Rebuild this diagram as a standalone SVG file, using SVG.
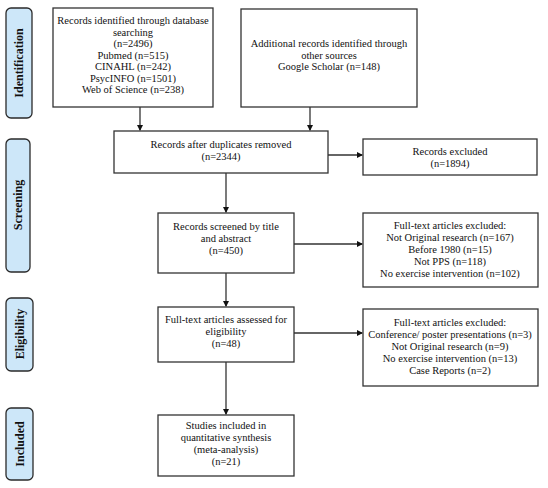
<svg xmlns="http://www.w3.org/2000/svg" width="548" height="488" viewBox="0 0 548 488">
<style>
.box{fill:#fff;stroke:#333;stroke-width:1.3}
.lab{fill:#cde7f9;stroke:#2a2a2a;stroke-width:1.3}
.t{font-family:"Liberation Serif","Times New Roman",serif;font-size:10.5px;fill:#111;text-anchor:middle}
.s{font-family:"Liberation Serif","Times New Roman",serif;font-size:12px;font-weight:bold;fill:#111;text-anchor:middle}
.c{fill:none;stroke:#333;stroke-width:1.3}
</style>
<defs>
<marker id="ah" markerWidth="6" markerHeight="6" refX="5" refY="3" orient="auto" markerUnits="userSpaceOnUse">
<path d="M0,0 L6,3 L0,6 z" fill="#111"/>
</marker>
</defs>
<g id="stage-identification"><rect class="lab" x="6" y="8" width="26" height="110" rx="5"/><text class="s" transform="translate(23,63) rotate(-90)">Identification</text></g>
<g id="stage-screening"><rect class="lab" x="6" y="139" width="24" height="133" rx="5"/><text class="s" transform="translate(22,205) rotate(-90)">Screening</text></g>
<g id="stage-eligibility"><rect class="lab" x="6" y="298" width="27" height="73" rx="5"/><text class="s" transform="translate(23.5,334) rotate(-90)">Eligibility</text></g>
<g id="stage-included"><rect class="lab" x="6" y="408" width="27" height="72" rx="5"/><text class="s" transform="translate(23.5,444) rotate(-90)">Included</text></g>

<g id="records-db"><rect class="box" x="53" y="8" width="160" height="99"/>
<text class="t" x="133" y="24">Records identified through database</text>
<text class="t" x="133" y="35.5">searching</text>
<text class="t" x="133" y="47">(n=2496)</text>
<text class="t" x="133" y="58.5">Pubmed (n=515)</text>
<text class="t" x="133" y="70">CINAHL (n=242)</text>
<text class="t" x="133" y="81.5">PsycINFO (n=1501)</text>
<text class="t" x="133" y="93">Web of Science (n=238)</text></g>

<g id="records-other"><rect class="box" x="241" y="9" width="176" height="98"/>
<text class="t" x="329" y="47">Additional records identified through</text>
<text class="t" x="329" y="58.5">other sources</text>
<text class="t" x="329" y="70">Google Scholar (n=148)</text></g>

<g id="dup-removed"><rect class="box" x="114" y="131" width="214" height="42"/>
<text class="t" x="221" y="148">Records after duplicates removed</text>
<text class="t" x="221" y="160">(n=2344)</text></g>

<g id="records-excluded"><rect class="box" x="363" y="139" width="174" height="36"/>
<text class="t" x="450" y="155">Records excluded</text>
<text class="t" x="450" y="167">(n=1894)</text></g>

<g id="screened"><rect class="box" x="158" y="213" width="136" height="60"/>
<text class="t" x="226" y="230">Records screened by title</text>
<text class="t" x="226" y="242">and abstract</text>
<text class="t" x="226" y="254">(n=450)</text></g>

<g id="excluded-1"><rect class="box" x="363" y="213" width="175" height="74"/>
<text class="t" x="450" y="229">Full-text articles excluded:</text>
<text class="t" x="450" y="241">Not Original research (n=167)</text>
<text class="t" x="450" y="253">Before 1980 (n=15)</text>
<text class="t" x="450" y="265">Not PPS (n=118)</text>
<text class="t" x="450" y="277">No exercise intervention (n=102)</text></g>

<g id="assessed"><rect class="box" x="158" y="307" width="136" height="55"/>
<text class="t" x="226" y="323">Full-text articles assessed for</text>
<text class="t" x="226" y="335">eligibility</text>
<text class="t" x="226" y="347">(n=48)</text></g>

<g id="excluded-2"><rect class="box" x="363" y="309" width="175" height="77"/>
<text class="t" x="450" y="326">Full-text articles excluded:</text>
<text class="t" x="450" y="338">Conference/ poster presentations (n=3)</text>
<text class="t" x="450" y="350">Not Original research (n=9)</text>
<text class="t" x="450" y="362">No exercise intervention (n=13)</text>
<text class="t" x="450" y="374">Case Reports (n=2)</text></g>

<g id="included"><rect class="box" x="158" y="415" width="136" height="61"/>
<text class="t" x="226" y="429">Studies included in</text>
<text class="t" x="226" y="441">quantitative synthesis</text>
<text class="t" x="226" y="453">(meta-analysis)</text>
<text class="t" x="226" y="465">(n=21)</text></g>

<g id="connectors">
<line class="c" x1="140" y1="107" x2="140" y2="130" marker-end="url(#ah)"/>
<line class="c" x1="310" y1="107" x2="310" y2="130" marker-end="url(#ah)"/>
<line class="c" x1="226" y1="173" x2="226" y2="212" marker-end="url(#ah)"/>
<line class="c" x1="226" y1="273" x2="226" y2="306" marker-end="url(#ah)"/>
<line class="c" x1="226" y1="362" x2="226" y2="414" marker-end="url(#ah)"/>
<line class="c" x1="328" y1="155" x2="362" y2="155" marker-end="url(#ah)"/>
<line class="c" x1="294" y1="244" x2="362" y2="244" marker-end="url(#ah)"/>
<line class="c" x1="294" y1="333" x2="362" y2="333" marker-end="url(#ah)"/>
</g>
</svg>
